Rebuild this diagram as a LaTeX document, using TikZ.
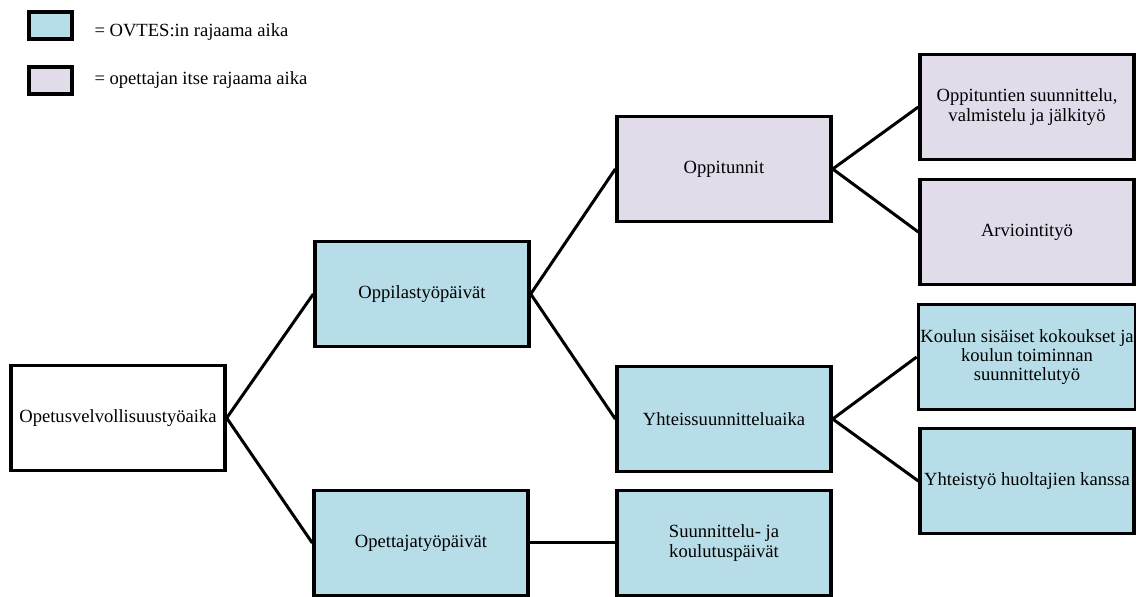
\documentclass[tikz,border=0pt]{standalone}
\usepackage{fontspec}
\setmainfont{Liberation Serif}

\definecolor{ovtes}{RGB}{183,222,232}
\definecolor{itse}{RGB}{225,219,234}

\tikzset{
   aika/.style={draw,line width=1.7pt,minimum width=107pt,minimum height=52.5pt,
      inner sep=1pt,align=center,font=\fontsize{9.3}{9.7}\selectfont},
   ovtesbox/.style={aika,fill=ovtes},
   itsebox/.style={aika,fill=itse},
   legbox/.style={draw,line width=2pt,minimum width=21.5pt,minimum height=13.5pt,inner sep=0pt},
   legtext/.style={anchor=west,inner sep=0pt,font=\fontsize{9.3}{11}\selectfont}
}

\begin{document}
\begin{tikzpicture}[x=0.5pt,y=-0.5pt,line width=1.5pt]
   \useasboundingbox (0,0) rectangle (1136,597);

   \node[legbox,fill=ovtes] (leg1) at (50.5,25.5) {};
   \node[legbox,fill=itse]  (leg2) at (50.5,80.5) {};
   \node[legtext] (leg1txt) at (93,32.5) {= OVTES:in rajaama aika};
   \node[legtext] (leg2txt) at (93,80) {= opettajan itse rajaama aika};

   \node[aika]     (root)       at (118,418)  {Opetusvelvollisuustyöaika};
   \node[ovtesbox] (oppilas)    at (422,294)  {Oppilastyöpäivät};
   \node[ovtesbox] (opettaja)   at (421,543)  {Opettajatyöpäivät};
   \node[itsebox]  (tunnit)     at (724,169)  {Oppitunnit};
   \node[ovtesbox] (yhteis)     at (724,419)  {Yhteissuunnitteluaika};
   \node[ovtesbox] (koulutus)   at (724,543)  {Suunnittelu- ja\\koulutuspäivät};
   \node[itsebox]  (valmistelu) at (1027,107) {Oppituntien suunnittelu,\\valmistelu ja jälkityö};
   \node[itsebox]  (arviointi)  at (1027,232) {Arviointityö};
   \node[ovtesbox] (kokoukset)  at (1027,357) {Koulun sisäiset kokoukset ja\\koulun toiminnan\\suunnittelutyö};
   \node[ovtesbox] (huoltajat)  at (1027,481) {Yhteistyö huoltajien kanssa};

   \path (root.east) edge (oppilas.west);
   \path (root.east) edge (opettaja.west);
   \path (oppilas.east) edge (tunnit.west);
   \path (oppilas.east) edge (yhteis.west);
   \path (opettaja.east) edge (koulutus.west);
   \path (tunnit.east) edge (valmistelu.west);
   \path (tunnit.east) edge (arviointi.west);
   \path (yhteis.east) edge (kokoukset.west);
   \path (yhteis.east) edge (huoltajat.west);

\end{tikzpicture}
\end{document}
